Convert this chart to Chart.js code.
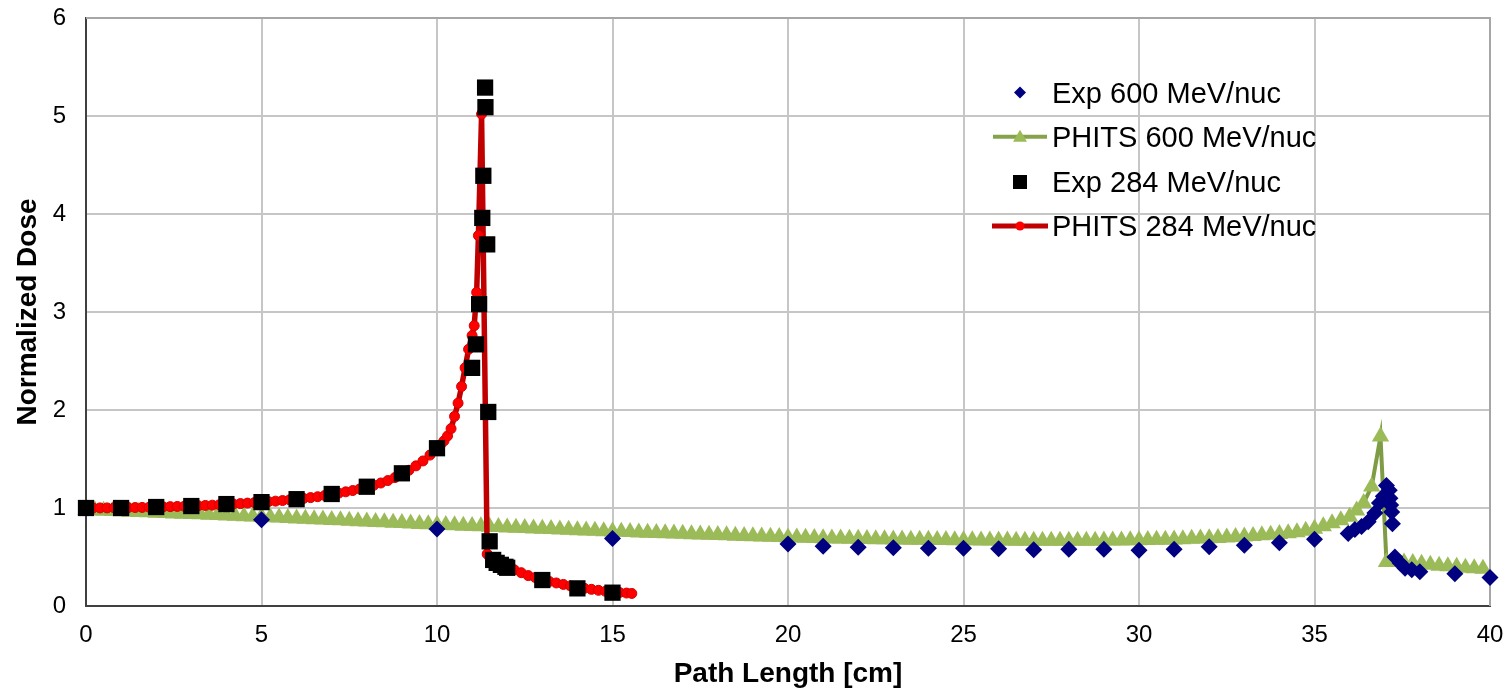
<!DOCTYPE html>
<html>
<head>
    <meta charset="utf-8" />
    <title>Normalized Dose vs Path Length</title>
    <script src="https://cdn.jsdelivr.net/npm/chart.js"></script>
    <style>
        html, body { margin: 0; padding: 0; background: #fff; }
        #wrap { width: 1508px; height: 691px; }
    </style>
</head>
<body>
<div id="wrap"><canvas id="doseChart" width="1508" height="691"></canvas></div>
<script>
    // tick values
    const xTicks = [0, 5, 10, 15, 20, 25, 30, 35, 40];
    const yTicks = [0, 1, 2, 3, 4, 5, 6];

    // Exp 600 MeV/nuc (diamonds)
    const exp600X = [5, 10, 15, 20, 21, 22, 23, 24, 25, 26, 27, 28, 29, 30, 31, 32, 33, 34, 35,
        35.96, 36.15, 36.34, 36.53, 36.72, 36.85, 36.96, 37.05, 37.13, 37.15, 37.17, 37.2, 37.22,
        37.29, 37.44, 37.58, 37.77, 38, 39, 40];
    const exp600Y = [0.88, 0.785, 0.69, 0.633, 0.61, 0.60, 0.595, 0.59, 0.59, 0.585, 0.575, 0.58, 0.58, 0.57, 0.58, 0.605, 0.62, 0.645, 0.68,
        0.74, 0.78, 0.81, 0.86, 0.95, 1.05, 1.12, 1.23, 1.18, 1.10, 1.03, 0.96, 0.84,
        0.50, 0.44, 0.385, 0.37, 0.35, 0.33, 0.29];

    // PHITS 600 MeV/nuc (line + triangles)
    const phits600X = [
        0, 0.25, 0.5, 0.75, 1, 1.25, 1.5, 1.75, 2, 2.25,
        2.5, 2.75, 3, 3.25, 3.5, 3.75, 4, 4.25, 4.5, 4.75,
        5, 5.25, 5.5, 5.75, 6, 6.25, 6.5, 6.75, 7, 7.25,
        7.5, 7.75, 8, 8.25, 8.5, 8.75, 9, 9.25, 9.5, 9.75,
        10, 10.25, 10.5, 10.75, 11, 11.25, 11.5, 11.75, 12, 12.25,
        12.5, 12.75, 13, 13.25, 13.5, 13.75, 14, 14.25, 14.5, 14.75,
        15, 15.25, 15.5, 15.75, 16, 16.25, 16.5, 16.75, 17, 17.25,
        17.5, 17.75, 18, 18.25, 18.5, 18.75, 19, 19.25, 19.5, 19.75,
        20, 20.25, 20.5, 20.75, 21, 21.25, 21.5, 21.75, 22, 22.25,
        22.5, 22.75, 23, 23.25, 23.5, 23.75, 24, 24.25, 24.5, 24.75,
        25, 25.25, 25.5, 25.75, 26, 26.25, 26.5, 26.75, 27, 27.25,
        27.5, 27.75, 28, 28.25, 28.5, 28.75, 29, 29.25, 29.5, 29.75,
        30, 30.25, 30.5, 30.75, 31, 31.25, 31.5, 31.75, 32, 32.25,
        32.5, 32.75, 33, 33.25, 33.5, 33.75, 34, 34.25, 34.5, 34.75,
        35, 35.25, 35.5, 35.75, 36, 36.2, 36.4, 36.63, 36.88, 37.05,
        37.3, 37.55, 37.8, 38.05, 38.3, 38.55, 38.8, 39.05, 39.3, 39.55, 39.8];
    const phits600Y = [
        0.980, 0.977, 0.973, 0.970, 0.966, 0.963, 0.959, 0.956, 0.952, 0.949,
        0.945, 0.942, 0.938, 0.935, 0.931, 0.928, 0.924, 0.921, 0.917, 0.914,
        0.910, 0.906, 0.902, 0.898, 0.894, 0.890, 0.886, 0.882, 0.878, 0.874,
        0.870, 0.866, 0.862, 0.858, 0.854, 0.850, 0.846, 0.842, 0.838, 0.834,
        0.830, 0.827, 0.823, 0.820, 0.816, 0.813, 0.809, 0.806, 0.802, 0.799,
        0.795, 0.792, 0.788, 0.785, 0.781, 0.778, 0.774, 0.771, 0.767, 0.764,
        0.760, 0.757, 0.754, 0.751, 0.748, 0.745, 0.742, 0.739, 0.736, 0.733,
        0.730, 0.727, 0.724, 0.721, 0.718, 0.715, 0.712, 0.709, 0.706, 0.703,
        0.700, 0.698, 0.696, 0.694, 0.692, 0.690, 0.688, 0.686, 0.685, 0.683,
        0.682, 0.680, 0.679, 0.678, 0.677, 0.676, 0.675, 0.674, 0.673, 0.672,
        0.671, 0.670, 0.669, 0.669, 0.668, 0.668, 0.667, 0.667, 0.667, 0.666,
        0.666, 0.666, 0.666, 0.666, 0.667, 0.667, 0.668, 0.668, 0.669, 0.670,
        0.671, 0.673, 0.675, 0.677, 0.679, 0.682, 0.685, 0.688, 0.691, 0.695,
        0.699, 0.704, 0.709, 0.715, 0.721, 0.728, 0.735, 0.743, 0.752, 0.768,
        0.787, 0.815, 0.845, 0.875, 0.910, 0.975, 1.05, 1.22, 1.73, 0.45,
        0.45, 0.445, 0.44, 0.43, 0.42, 0.41, 0.405, 0.40, 0.39, 0.385, 0.38];

    // Exp 284 MeV/nuc (squares)
    const exp284X = [0, 1, 2, 3, 4, 5, 6, 7, 8, 9, 10,
        11.0, 11.11, 11.2, 11.29, 11.32, 11.37, 11.38, 11.43, 11.46, 11.5, 11.6, 11.7, 11.82, 11.95, 12.0,
        13, 14, 15];
    const exp284Y = [1.0, 1.0, 1.01, 1.02, 1.04, 1.06, 1.09, 1.143, 1.217, 1.354, 1.61,
        2.43, 2.67, 3.08, 3.96, 4.39, 5.29, 5.09, 3.69, 1.98, 0.66, 0.47, 0.44, 0.42, 0.40, 0.39,
        0.265, 0.18, 0.136];

    // PHITS 284 MeV/nuc (line + small dots)
    const phits284X = [
        0, 0.2, 0.4, 0.6, 0.8, 1, 1.2, 1.4, 1.6, 1.8,
        2, 2.2, 2.4, 2.6, 2.8, 3, 3.2, 3.4, 3.6, 3.8,
        4, 4.2, 4.4, 4.6, 4.8, 5, 5.2, 5.4, 5.6, 5.8,
        6, 6.2, 6.4, 6.6, 6.8, 7, 7.2, 7.4, 7.6, 7.8,
        8, 8.2, 8.4, 8.6, 8.8, 9, 9.2, 9.4, 9.6, 9.8,
        10, 10.1, 10.2, 10.3, 10.4, 10.5, 10.6, 10.7, 10.8, 10.9,
        11.0, 11.06, 11.13, 11.18, 11.27, 11.43, 11.5, 11.6, 11.7, 11.8,
        11.9, 12.0, 12.2, 12.4, 12.6, 12.8, 13.0, 13.2, 13.4, 13.6,
        13.8, 14.0, 14.2, 14.4, 14.6, 14.8, 15.0, 15.2, 15.4, 15.55];
    const phits284Y = [
        1.000, 1.000, 1.001, 1.001, 1.002, 1.003, 1.004, 1.005, 1.006, 1.008,
        1.010, 1.012, 1.014, 1.016, 1.018, 1.020, 1.023, 1.026, 1.029, 1.033,
        1.037, 1.041, 1.045, 1.050, 1.055, 1.060, 1.065, 1.070, 1.076, 1.083,
        1.090, 1.098, 1.106, 1.115, 1.127, 1.140, 1.152, 1.165, 1.178, 1.195,
        1.212, 1.232, 1.255, 1.280, 1.310, 1.345, 1.385, 1.430, 1.480, 1.540,
        1.610, 1.645, 1.685, 1.735, 1.81, 1.935, 2.07, 2.24, 2.43, 2.62,
        2.76, 2.86, 3.2, 3.78, 5.02, 0.53, 0.50, 0.47, 0.45, 0.435,
        0.42, 0.40, 0.37, 0.34, 0.31, 0.29, 0.27, 0.25, 0.235, 0.22,
        0.205, 0.19, 0.18, 0.17, 0.16, 0.15, 0.142, 0.137, 0.132, 0.128];

    const seriesNames = ['Exp 600 MeV/nuc', 'PHITS 600 MeV/nuc', 'Exp 284 MeV/nuc', 'PHITS 284 MeV/nuc'];

    const FONT = '"Liberation Sans", Arial, sans-serif';

    function toPoints(xs, ys) {
        return xs.map((x, i) => ({ x: x, y: ys[i] }));
    }

    // draws a legend symbol in the same style as the plotted series
    function legendMark(ctx, style, x, y, r) {
        ctx.beginPath();
        if (style === 'diamond') {
            ctx.moveTo(x - r, y); ctx.lineTo(x, y - r); ctx.lineTo(x + r, y); ctx.lineTo(x, y + r);
        } else if (style === 'triangle') {
            ctx.moveTo(x, y - r); ctx.lineTo(x + r * 0.866, y + r / 2); ctx.lineTo(x - r * 0.866, y + r / 2);
        } else if (style === 'square') {
            ctx.rect(x - r, y - r, 2 * r, 2 * r);
        } else {
            ctx.arc(x, y, r, 0, Math.PI * 2);
        }
        ctx.closePath();
        ctx.fill();
    }

    // plot frame (top and right edges) + legend inside the plot area
    const framePlugin = {
        id: 'frameAndLegend',
        beforeDatasetsDraw(chart) {
            const a = chart.chartArea;
            const ctx = chart.ctx;
            ctx.save();
            ctx.strokeStyle = '#A6A6A6';
            ctx.lineWidth = 2;
            ctx.beginPath();
            ctx.moveTo(a.left, a.top);
            ctx.lineTo(a.right, a.top);
            ctx.lineTo(a.right, a.bottom);
            ctx.stroke();
            ctx.restore();
        },
        afterDraw(chart) {
            const ctx = chart.ctx;
            const rowY = [92.5, 136.8, 182, 226];
            const markX = 1020;
            ctx.save();
            ctx.font = '29px ' + FONT;
            ctx.textBaseline = 'alphabetic';
            ctx.textAlign = 'left';
            seriesNames.forEach((name, i) => {
                const y = rowY[i];
                if (i === 0) {
                    ctx.fillStyle = '#000080';
                    legendMark(ctx, 'diamond', markX, y, 6);
                } else if (i === 1) {
                    ctx.strokeStyle = '#86A34C';
                    ctx.lineWidth = 4;
                    ctx.beginPath(); ctx.moveTo(markX - 27, y); ctx.lineTo(markX + 27, y); ctx.stroke();
                    ctx.fillStyle = '#9BBB59';
                    legendMark(ctx, 'triangle', markX, y + 1, 8);
                } else if (i === 2) {
                    ctx.fillStyle = '#000000';
                    legendMark(ctx, 'square', markX, y, 7);
                } else {
                    ctx.strokeStyle = '#C00000';
                    ctx.lineWidth = 5;
                    ctx.beginPath(); ctx.moveTo(markX - 28, y); ctx.lineTo(markX + 28, y); ctx.stroke();
                    ctx.fillStyle = '#FF0000';
                    legendMark(ctx, 'circle', markX, y, 4.5);
                }
                ctx.fillStyle = '#000';
                ctx.fillText(name, 1052, y + 10);
            });
            ctx.restore();
        }
    };

    const ctx = document.getElementById('doseChart').getContext('2d');
    const chart = new Chart(ctx, {
        type: 'scatter',
        data: {
            datasets: [
                {
                    label: seriesNames[0],
                    data: toPoints(exp600X, exp600Y),
                    showLine: false,
                    pointStyle: 'rectRot',
                    pointRadius: 8.5,
                    pointBackgroundColor: '#000080',
                    pointBorderColor: '#000080',
                    pointBorderWidth: 0,
                    order: 0,
                    clip: false
                },
                {
                    label: seriesNames[1],
                    data: toPoints(phits600X, phits600Y),
                    showLine: true,
                    borderColor: '#7E9C45',
                    borderWidth: 4,
                    tension: 0,
                    pointStyle: 'triangle',
                    pointRadius: 10,
                    pointBackgroundColor: '#9BBB59',
                    pointBorderColor: '#9BBB59',
                    pointBorderWidth: 0,
                    order: 3,
                    clip: false
                },
                {
                    label: seriesNames[2],
                    data: toPoints(exp284X, exp284Y),
                    showLine: false,
                    pointStyle: 'rect',
                    pointRadius: 11.5,
                    pointBackgroundColor: '#000000',
                    pointBorderColor: '#000000',
                    pointBorderWidth: 0,
                    order: 1,
                    clip: false
                },
                {
                    label: seriesNames[3],
                    data: toPoints(phits284X, phits284Y),
                    showLine: true,
                    borderColor: '#C00000',
                    borderWidth: 5.5,
                    tension: 0,
                    pointStyle: 'circle',
                    pointRadius: 5,
                    pointBackgroundColor: '#FF0000',
                    pointBorderColor: '#D40000',
                    pointBorderWidth: 1,
                    order: 2,
                    clip: false
                }
            ]
        },
        options: {
            responsive: false,
            animation: false,
            devicePixelRatio: 1,
            layout: { padding: { top: 18, right: 18, left: 0, bottom: 0 } },
            plugins: {
                legend: { display: false },
                tooltip: { enabled: false }
            },
            scales: {
                x: {
                    type: 'linear',
                    min: 0,
                    max: 40,
                    afterBuildTicks: (s) => { s.ticks = xTicks.map(v => ({ value: v })); },
                    afterFit: (s) => { s.height = 85; s.paddingLeft = 0; s.paddingRight = 0; },
                    grid: { color: '#C6C6C6', lineWidth: 2, drawTicks: false },
                    border: { color: '#404040', width: 2 },
                    ticks: { color: '#000', font: { family: FONT, size: 24 }, padding: 15, maxRotation: 0 },
                    title: {
                        display: true, text: 'Path Length [cm]', color: '#000',
                        font: { family: FONT, size: 28, weight: 'bold' },
                        padding: { top: 0, bottom: 0 }
                    }
                },
                y: {
                    type: 'linear',
                    min: 0,
                    max: 6,
                    afterBuildTicks: (s) => { s.ticks = yTicks.map(v => ({ value: v })); },
                    afterFit: (s) => { s.width = 86; s.paddingTop = 0; s.paddingBottom = 0; },
                    grid: { color: '#C6C6C6', lineWidth: 2, drawTicks: false },
                    border: { color: '#404040', width: 2 },
                    ticks: { color: '#000', font: { family: FONT, size: 24 }, padding: 20 },
                    title: {
                        display: true, text: 'Normalized Dose', color: '#000',
                        font: { family: FONT, size: 28, weight: 'bold' },
                        padding: { top: 11, bottom: 0 }
                    }
                }
            }
        },
        plugins: [framePlugin]
    });
</script>
</body>
</html>
